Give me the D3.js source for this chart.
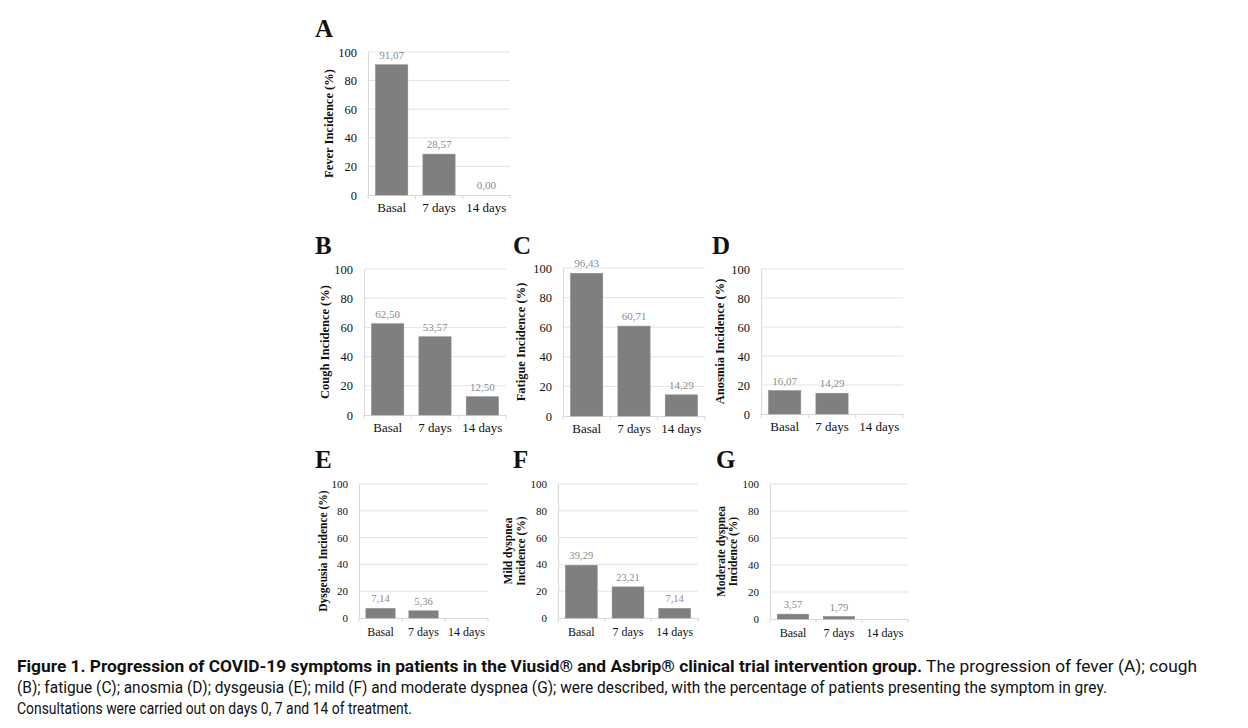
<!DOCTYPE html>
<html>
<head>
<meta charset="utf-8">
<script src="https://cdn.jsdelivr.net/npm/d3@7"></script>
<style>
  body { margin: 0; background: #fff; }
  svg { display: block; }
</style>
</head>
<body>
<div id="chart"></div>
<script>
// Data
const categories = ["Basal", "7 days", "14 days"];
const yTicks = [0, 20, 40, 60, 80, 100];

const feverValues     = [91.07, 28.57, 0.00];
const coughValues     = [62.50, 53.57, 12.50];
const fatigueValues   = [96.43, 60.71, 14.29];
const anosmiaValues   = [16.07, 14.29, null];
const dysgeusiaValues = [7.14, 5.36, null];
const mildDyspValues  = [39.29, 23.21, 7.14];
const modDyspValues   = [3.57, 1.79, null];

const panelLetters = ["A", "B", "C", "D", "E", "F", "G"];
const yTitles = [
  ["Fever Incidence (%)"],
  ["Cough Incidence (%)"],
  ["Fatigue Incidence (%)"],
  ["Anosmia Incidence (%)"],
  ["Dysgeusia Incidence (%)"],
  ["Mild dyspnea", "Incidence (%)"],
  ["Moderate dyspnea", "Incidence (%)"]
];
const seriesList = [feverValues, coughValues, fatigueValues, anosmiaValues,
                    dysgeusiaValues, mildDyspValues, modDyspValues];

// Panel placement on the page (plot box + letter + axis title)
const layout = [
  { left: 368, right: 510, top: 52,  bottom: 195, lx: 315, ly: 37,  tx: [329],      small: false },
  { left: 364, right: 506, top: 269, bottom: 415, lx: 315, ly: 254, tx: [325],      small: false },
  { left: 563, right: 705, top: 268, bottom: 416, lx: 513, ly: 254, tx: [521],      small: false },
  { left: 761, right: 903, top: 269, bottom: 414, lx: 712, ly: 254, tx: [720],      small: false },
  { left: 359, right: 488, top: 484, bottom: 618, lx: 315, ly: 468, tx: [323],      small: true },
  { left: 558, right: 698, top: 484, bottom: 618, lx: 513, ly: 468, tx: [508, 521], small: true },
  { left: 770, right: 908, top: 484, bottom: 619, lx: 716, ly: 468, tx: [721, 733], small: true }
];

const serif = "'Liberation Serif', 'Times New Roman', serif";
const barColor = "#7f7f7f";
const gridColor = "#e3e3e3";
const valueColor = "#8c8c8c";

const svg = d3.select("#chart").append("svg")
  .attr("width", 1248)
  .attr("height", 728);

const fmt = v => v.toFixed(2).replace(".", ",");

seriesList.forEach((values, i) => {
  const L = layout[i];
  const tickSize = L.small ? 11 : 12.5;
  const catSize = L.small ? 12 : 13;
  const valSize = L.small ? 10.5 : 11;
  const titleSize = L.small ? 11.5 : 12.5;

  const x = d3.scaleBand()
    .domain(categories)
    .range([L.left, L.right])
    .paddingInner(0.32)
    .paddingOuter(0.16);

  const y = d3.scaleLinear()
    .domain([0, 100])
    .range([L.bottom, L.top]);

  const g = svg.append("g");

  // gridlines
  g.selectAll(".grid")
    .data(yTicks.filter(t => t > 0))
    .enter().append("line")
    .attr("x1", L.left).attr("x2", L.right)
    .attr("y1", d => y(d)).attr("y2", d => y(d))
    .attr("stroke", gridColor).attr("stroke-width", 1);

  // left axis
  g.append("g")
    .attr("transform", `translate(${L.left},0)`)
    .call(d3.axisLeft(y).tickValues(yTicks).tickSize(0).tickPadding(L.small ? 11 : 11))
    .call(a => a.select(".domain").attr("stroke", "#d9d9d9"))
    .call(a => a.selectAll("text")
      .attr("font-family", serif)
      .attr("font-size", tickSize)
      .attr("fill", "#111"));

  // bottom axis with category separators
  g.append("g")
    .attr("transform", `translate(0,${L.bottom})`)
    .call(d3.axisBottom(x).tickSize(0).tickPadding(L.small ? 9 : 8))
    .call(a => a.select(".domain").attr("stroke", "#d9d9d9"))
    .call(a => a.selectAll("text")
      .attr("font-family", serif)
      .attr("font-size", catSize)
      .attr("fill", "#111"));

  const step = x.step();
  g.selectAll(".sep")
    .data(d3.range(categories.length + 1))
    .enter().append("line")
    .attr("x1", d => L.left + d * step).attr("x2", d => L.left + d * step)
    .attr("y1", L.bottom).attr("y2", L.bottom + 4)
    .attr("stroke", "#d9d9d9");

  const pts = categories.map((c, k) => ({ c, v: values[k] })).filter(d => d.v !== null);

  // bars
  g.selectAll(".bar")
    .data(pts)
    .enter().append("rect")
    .attr("x", d => x(d.c))
    .attr("width", x.bandwidth())
    .attr("y", d => y(d.v))
    .attr("height", d => y(0) - y(d.v))
    .attr("fill", barColor)
    .attr("stroke", "#888")
    .attr("stroke-width", 0.6);

  // value labels
  g.selectAll(".val")
    .data(pts)
    .enter().append("text")
    .attr("x", d => x(d.c) + x.bandwidth() / 2)
    .attr("y", d => y(d.v) - 6)
    .attr("text-anchor", "middle")
    .attr("font-family", serif)
    .attr("font-size", valSize)
    .attr("fill", valueColor)
    .text(d => fmt(d.v));

  // panel letter
  svg.append("text")
    .attr("x", L.lx).attr("y", L.ly)
    .attr("font-family", serif)
    .attr("font-weight", "bold")
    .attr("font-size", 25)
    .attr("fill", "#111")
    .text(panelLetters[i]);

  // y axis title
  const cy = (L.top + L.bottom) / 2;
  yTitles[i].forEach((line, j) => {
    svg.append("text")
      .attr("transform", `translate(${L.tx[j]},${cy}) rotate(-90)`)
      .attr("text-anchor", "middle")
      .attr("dominant-baseline", "central")
      .attr("font-family", serif)
      .attr("font-weight", "bold")
      .attr("font-size", titleSize)
      .attr("fill", "#111")
      .text(line);
  });
});

// caption (condensed look via textLength, no narrow font installed)
const capFont = "'Liberation Sans Narrow', 'Arial Narrow', 'Roboto', sans-serif";
const cap = svg.append("g")
  .attr("font-family", capFont)
  .attr("font-size", 17)
  .attr("fill", "#111");

const l1 = cap.append("text").attr("x", 17).attr("y", 672)
  .attr("textLength", 1180).attr("lengthAdjust", "spacingAndGlyphs");
l1.append("tspan").attr("font-weight", "bold")
  .text("Figure 1. Progression of COVID-19 symptoms in patients in the Viusid® and Asbrip® clinical trial intervention group.");
l1.append("tspan").text(" The progression of fever (A); cough");

cap.append("text").attr("x", 17).attr("y", 693)
  .attr("textLength", 1090).attr("lengthAdjust", "spacingAndGlyphs")
  .text("(B); fatigue (C); anosmia (D); dysgeusia (E); mild (F) and moderate dyspnea (G); were described, with the percentage of patients presenting the symptom in grey.");

cap.append("text").attr("x", 17).attr("y", 714)
  .attr("textLength", 395).attr("lengthAdjust", "spacingAndGlyphs")
  .text("Consultations were carried out on days 0, 7 and 14 of treatment.");
</script>
</body>
</html>
